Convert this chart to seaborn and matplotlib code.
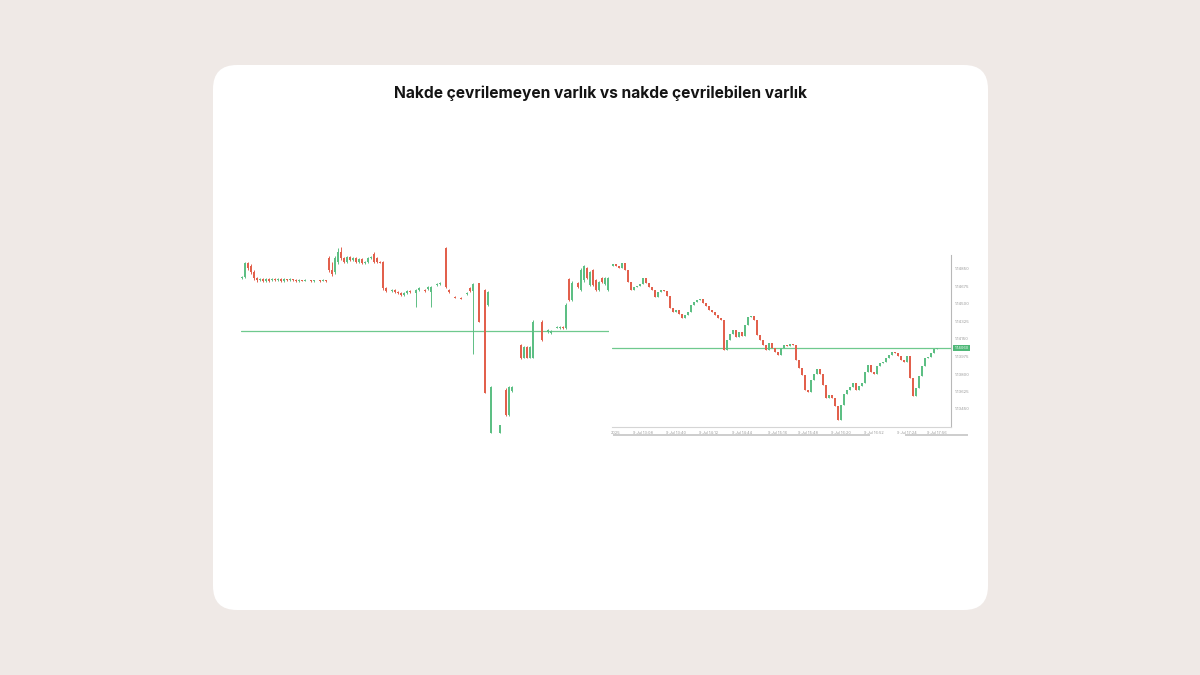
import numpy as np
import pandas as pd
import matplotlib
matplotlib.use("Agg")
import matplotlib.pyplot as plt
import seaborn as sns
from matplotlib.patches import FancyBboxPatch

sns.set_theme(style="white")
plt.rcParams['font.family'] = ['Inter', 'DejaVu Sans']

TITLE = "Nakde çevrilemeyen varlık vs nakde çevrilebilen varlık"

# ---------------- left chart (illiquid asset): pips relative to reference level
left_ref = 1.08500
left_open = [53,54,68,65,59,53,51,52,50,52,
             51,52,51,52,50,52,51,52,51,50,
             51,50,None,51,50,None,51,50,51,73,
             61,59,69,79,73,69,74,71,73,69,
             72,68,69,73,77,73,69,69,43,None,
             40,41,39,38,36,38,40,None,38,41,
             None,41,42,39,None,46,47,None,83,41,
             None,34,None,33,None,37,43,40,None,48,
             None,41,26,-102,None,None,-102,None,-59,-84,
             -60,None,None,-14,-27,-16,-27,-27,None,None,
             9,None,-1,-2,None,3,3,4,3,52,
             31,None,48,41,51,63,46,61,51,41,
             53,47,41]
left_high = [55,69,69,67,61,54,53,53,53,53,
             53,53,53,53,53,52,53,52,52,52,
             51,52,None,51,51,None,51,52,51,75,
             69,75,83,84,74,75,75,74,74,73,
             73,70,74,75,79,74,70,70,44,None,
             42,42,40,39,39,41,41,None,42,44,
             None,42,45,45,None,48,49,None,84,42,
             None,35,None,34,None,39,44,48,None,48,
             None,42,40,-55,None,None,-94,None,-57,-55,
             -55,None,None,-13,-15,-15,-15,11,None,None,
             11,None,2,1,None,5,5,5,28,53,
             50,None,49,63,66,64,60,62,52,50,
             54,54,54]
left_low = [52,53,61,57,51,49,50,49,49,49,
            50,50,50,49,49,50,50,50,49,49,
            50,50,None,49,49,None,49,50,49,59,
            55,57,67,71,68,68,70,70,68,68,
            67,67,68,72,68,68,68,41,39,None,
            39,38,37,35,35,37,38,None,24,40,
            None,39,41,24,None,45,46,None,43,38,
            None,33,None,32,None,36,39,-23,None,9,
            None,-62,25,-102,None,None,-102,None,-85,-85,
            -61,None,None,-28,-27,-27,-27,-27,None,None,
            -10,None,-2,-3,None,3,2,2,2,30,
            30,None,43,40,49,52,45,45,40,40,
            48,46,40]
left_close = [54,68,63,59,53,51,52,50,52,50,
              52,51,52,50,52,51,52,51,50,51,
              50,51,None,50,51,None,50,51,50,61,
              57,73,79,73,69,74,71,73,69,72,
              68,69,73,74,69,69,68,43,40,None,
              41,39,38,36,38,40,39,None,41,43,
              None,40,44,44,None,47,48,None,44,39,
              None,33,None,32,None,38,40,47,None,9,
              None,-62,39,-56,None,None,-94,None,-84,-56,
              -56,None,None,-27,-16,-27,-16,9,None,None,
              -9,None,1,0,None,4,4,3,26,31,
              48,None,44,61,65,53,59,46,41,49,
              49,53,53]

# ---------------- right chart (liquid asset): prices
right_first_open = 1.14880
right_close = [1.14900,1.14880,1.14860,1.14910,1.14840,1.14720,1.14640,1.14670,1.14680,1.14700,
               1.14760,1.14710,1.14670,1.14640,1.14570,1.14620,1.14640,1.14630,1.14580,1.14460,
               1.14420,1.14440,1.14400,1.14360,1.14390,1.14420,1.14490,1.14520,1.14540,1.14550,
               1.14510,1.14480,1.14440,1.14420,1.14390,1.14360,1.14340,1.14040,1.14140,1.14200,
               1.14240,1.14170,1.14220,1.14180,1.14290,1.14370,1.14380,1.14340,1.14190,1.14140,
               1.14090,1.14040,1.14110,1.14060,1.14020,1.13990,1.14060,1.14090,1.14080,1.14100,
               1.14090,1.13940,1.13860,1.13790,1.13640,1.13620,1.13740,1.13800,1.13850,1.13800,
               1.13690,1.13560,1.13590,1.13560,1.13480,1.13340,1.13490,1.13600,1.13640,1.13670,
               1.13710,1.13640,1.13680,1.13710,1.13820,1.13890,1.13820,1.13800,1.13880,1.13910,
               1.13920,1.13960,1.13990,1.14020,1.14010,1.13980,1.13940,1.13920,1.13980,1.13760,
               1.13580,1.13660,1.13780,1.13880,1.13960,1.13970,1.14010,1.14050,1.14060]
right_ref = 1.14060
right_ytick_values = [1.14850, 1.14675, 1.14500, 1.14325, 1.14150, 1.13975, 1.13800, 1.13625, 1.13450]
right_xtick_idx = [1, 10, 21, 32, 43, 55, 65, 76, 87, 98, 108]
right_xtick_labels = ["2025", "9 Jul 13:08", "9 Jul 13:40", "9 Jul 14:12", "9 Jul 14:44",
                      "9 Jul 15:16", "9 Jul 15:48", "9 Jul 16:20", "9 Jul 16:52",
                      "9 Jul 17:24", "9 Jul 17:56"]

GREEN = "#5dbf84"
RED = "#e2604c"
LINE = "#6fc98e"

W, H = 1200, 675
fig = plt.figure(figsize=(12, 6.75), dpi=100, facecolor="#efe9e6")

# background card
bg = fig.add_axes([0, 0, 1, 1], zorder=0)
bg.set_xlim(0, W); bg.set_ylim(H, 0); bg.axis("off")
bg.add_patch(FancyBboxPatch((213, 65), 775, 545, boxstyle="round,pad=0,rounding_size=24",
                            fc="white", ec="none"))
bg.text(600, 93, TITLE, ha="center", va="center", fontsize=11.2, fontweight="bold",
        color="#141414")
bg.plot([613, 870], [434.5, 434.5], color="#c9c9c9", lw=1.3, solid_capstyle="butt")
bg.plot([905, 968], [434.5, 434.5], color="#c9c9c9", lw=1.3, solid_capstyle="butt")


def fa(x0, y0, x1, y1):
    return [x0 / W, 1 - y1 / H, (x1 - x0) / W, (y1 - y0) / H]


def candles(ax, df, width, lw, minh):
    df = df.dropna()
    up = df["c"] >= df["o"]
    cols = np.where(up, GREEN, RED)
    ax.vlines(df["i"], df["l"], df["h"], colors=cols, linewidth=lw, zorder=2)
    bottom = np.minimum(df["o"], df["c"])
    height = np.maximum(np.abs(df["c"] - df["o"]), minh)
    ax.bar(df["i"], height, width, bottom=bottom, color=cols, linewidth=0, zorder=3)


# ---------------- left chart
ax1 = fig.add_axes(fa(241, 240, 609, 435), zorder=1)
ax1.set_facecolor("none")
pip = 0.0001
ldf = pd.DataFrame({
    "i": np.arange(len(left_open)),
    "o": pd.to_numeric(pd.Series(left_open), errors="coerce") * pip + left_ref,
    "h": pd.to_numeric(pd.Series(left_high), errors="coerce") * pip + left_ref,
    "l": pd.to_numeric(pd.Series(left_low), errors="coerce") * pip + left_ref,
    "c": pd.to_numeric(pd.Series(left_close), errors="coerce") * pip + left_ref,
})
candles(ax1, ldf, 0.55, 0.7, 1.0 * pip)
ax1.axhline(left_ref, color=LINE, lw=0.9, zorder=1)
ax1.set_xlim(-0.33, len(left_open) - 0.67)
ax1.set_ylim(left_ref - 104 * pip, left_ref + 91 * pip)
ax1.axis("off")

# ---------------- right chart
ax2 = fig.add_axes(fa(612, 255, 951, 427), zorder=1)
ax2.set_facecolor("none")
r_open = [right_first_open] + right_close[:-1]
rdf = pd.DataFrame({"i": np.arange(len(right_close)), "o": r_open, "c": right_close})
rdf["h"] = rdf[["o", "c"]].max(axis=1)
rdf["l"] = rdf[["o", "c"]].min(axis=1)
candles(ax2, rdf, 0.75, 0.6, 0.6 * pip)
ax2.axhline(right_ref, color=LINE, lw=0.9, zorder=1)
ax2.set_xlim(-0.33, 112.7)
ax2.set_ylim(1.13270, 1.14990)
for s in ["top", "left"]:
    ax2.spines[s].set_visible(False)
ax2.spines["right"].set_color("#b8b8b8"); ax2.spines["right"].set_linewidth(0.8)
ax2.spines["bottom"].set_color("#d5d5d5"); ax2.spines["bottom"].set_linewidth(0.8)
ax2.yaxis.tick_right()
ax2.set_yticks(right_ytick_values)
ax2.set_yticklabels([f"{v:.5f}" for v in right_ytick_values])
ax2.set_xticks(right_xtick_idx)
ax2.set_xticklabels(right_xtick_labels)
ax2.tick_params(axis="y", length=0, pad=3, labelsize=3.0, labelcolor="#9a9a9a")
ax2.tick_params(axis="x", length=1.5, width=0.5, color="#cccccc", pad=1.2,
                labelsize=2.8, labelcolor="#9a9a9a")
ax2.grid(False)
ax2.annotate(f"{right_ref:.5f}", xy=(1.0, right_ref), xycoords=("axes fraction", "data"),
             xytext=(2.5, 0), textcoords="offset points", ha="left", va="center",
             fontsize=2.8, color="white",
             bbox=dict(boxstyle="square,pad=0.35", fc="#4fb878", ec="none"))

fig.savefig("out.png", dpi=100, facecolor=fig.get_facecolor())
